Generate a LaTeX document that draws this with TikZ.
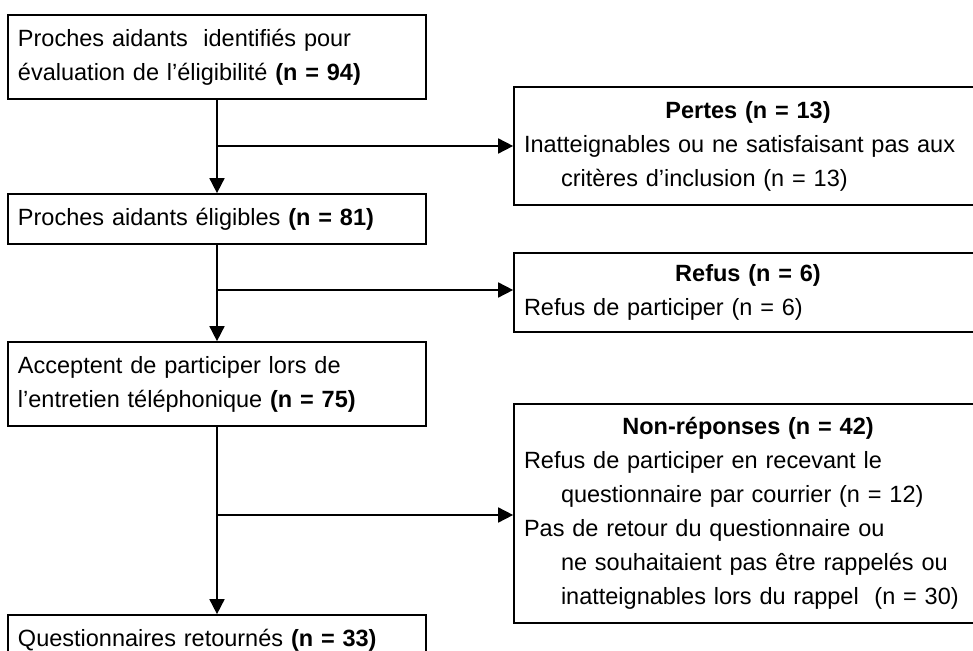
\documentclass[tikz,border=0pt]{standalone}
\usepackage{fontspec}
\setmainfont{Liberation Sans}
\usetikzlibrary{arrows.meta}
\begin{document}
\begin{tikzpicture}[x=0.5pt,y=-0.5pt,
  box/.style={draw, line width=0.85pt, fill=white, inner xsep=5pt, inner ysep=0pt,
    font=\fontsize{11.75pt}{17pt}\selectfont},
  lbox/.style={box, minimum width=209pt, text width=199pt, align=left},
  rbox/.style={box, minimum width=234pt, text width=224pt, align=left},
  conn/.style={line width=0.85pt},
  arr/.style={conn, -{Triangle[length=7.5pt,width=7.5pt]}}]
\clip (0,0) rectangle (973,651);
\fill[white] (0,0) rectangle (973,651);

\node[lbox, minimum height=42pt] (b1) at (217,57)
  {Proches aidants~ identifiés pour\\évaluation de l’éligibilité \textbf{(n = 94)}};
\node[lbox, minimum height=25pt] (b2) at (217,219)
  {Proches aidants éligibles \textbf{(n = 81)}};
\node[lbox, minimum height=42pt] (b3) at (217,384)
  {Acceptent de participer lors de\\l’entretien téléphonique \textbf{(n = 75)}};
\node[lbox, minimum height=25pt] (b4) at (217,640)
  {Questionnaires retournés \textbf{(n = 33)}};

\node[rbox, minimum height=59pt] (pertes) at (748,146)
  {\centering\textbf{Pertes (n = 13)}\par\raggedright
   Inatteignables ou ne satisfaisant pas aux\\\hspace*{18.5pt}critères d’inclusion (n = 13)};
\node[rbox, minimum height=39.5pt] (refus) at (748,292.5)
  {\centering\textbf{Refus (n = 6)}\par\raggedright
   Refus de participer (n = 6)};
\node[rbox, minimum height=109.5pt] (nonrep) at (748,513.5)
  {\centering\textbf{Non-réponses (n = 42)}\par\raggedright
   Refus de participer en recevant le\\\hspace*{18.5pt}questionnaire par courrier (n = 12)\\
   Pas de retour du questionnaire ou\\\hspace*{18.5pt}ne souhaitaient pas être rappelés ou\\
   \hspace*{18.5pt}inatteignables lors du rappel~ (n = 30)};

\coordinate (j1) at (217,146);
\coordinate (j2) at (217,290);
\coordinate (j3) at (217,515);

\draw[arr] (b1) -- (b2);
\draw[arr] (b2) -- (b3);
\draw[arr] (b3) -- (b4);
\draw[arr] (j1) -- (pertes.west |- j1);
\draw[arr] (j2) -- (refus.west |- j2);
\draw[arr] (j3) -- (nonrep.west |- j3);
\end{tikzpicture}
\end{document}
